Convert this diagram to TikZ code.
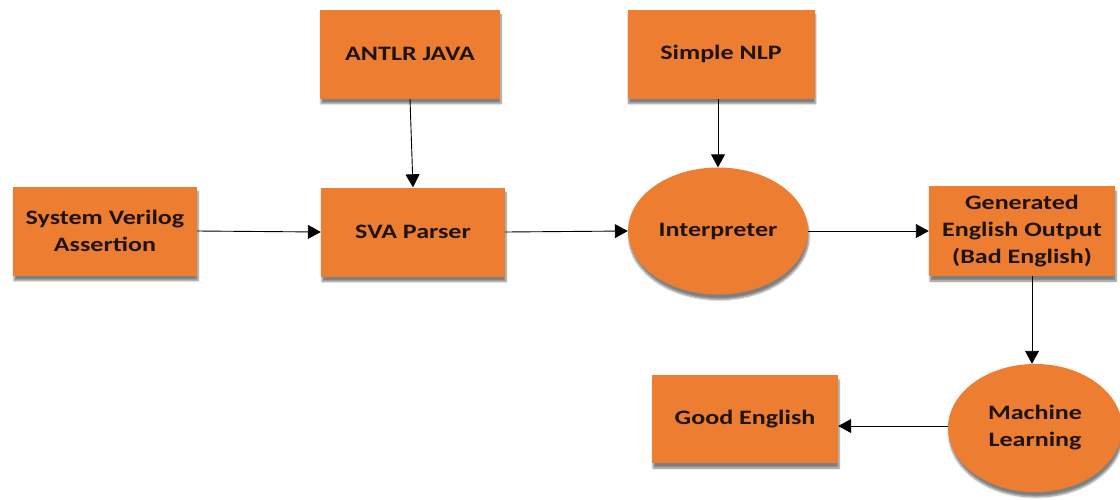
\documentclass[tikz,border=0pt]{standalone}
\usepackage{fontspec}
\setmainfont{Carlito}[FakeStretch=1.27]
\usetikzlibrary{shapes.geometric,shadows.blur,arrows.meta}
\definecolor{boxorange}{RGB}{237,125,49}
\definecolor{txt}{RGB}{30,20,15}
\tikzset{
  base/.style={fill=boxorange, draw=none, text=txt, font=\bfseries\fontsize{20.5}{27}\selectfont, align=center,
    blur shadow={shadow xshift=1pt, shadow yshift=-5pt, shadow blur steps=6, shadow opacity=50}},
  box/.style={base, rectangle, minimum width=184pt, minimum height=89pt, inner sep=0pt},
  oval/.style={base, ellipse, inner sep=0pt},
  conn/.style={draw=black, line width=0.9pt, -{Triangle[length=13pt,width=14pt]}},
}
\begin{document}
\begin{tikzpicture}[x=1pt,y=-1pt]
\useasboundingbox (0,0) rectangle (1120,499);
\node[box] (sva) at (105,231) {System Verilog\\Assertion};
\node[box] (parser) at (413,232) {SVA Parser};
\node[box, minimum width=180pt] (antlr) at (410,54) {ANTLR JAVA};
\node[box, minimum width=187pt] (nlp) at (721,54) {Simple NLP};
\node[oval, minimum width=180pt, minimum height=127pt] (interp) at (718,231) {Interpreter};
\node[box, minimum width=186pt, minimum height=90pt] (gen) at (1022,231) {Generated\\English Output\\(Bad English)};
\node[oval, minimum width=174pt, minimum height=128pt] (ml) at (1035,428) {Machine\\Learning};
\node[box, minimum width=186pt, minimum height=88pt] (good) at (745,419) {Good English};
\coordinate (gs) at ([xshift=10pt]gen.south);
\coordinate (ms) at ([yshift=2pt]ml.west);
\draw[conn] (sva.east) -- (parser.west);
\draw[conn] (antlr.south) -- (parser.north);
\draw[conn] (parser.east) -- (interp.west);
\draw[conn] (nlp.south -| interp.north) -- (interp.north);
\draw[conn] (interp.east) -- (gen.west);
\draw[conn] (gs) -- (gs |- ml.north);
\draw[conn] (ms) -- (good.east |- ms);
\end{tikzpicture}
\end{document}
